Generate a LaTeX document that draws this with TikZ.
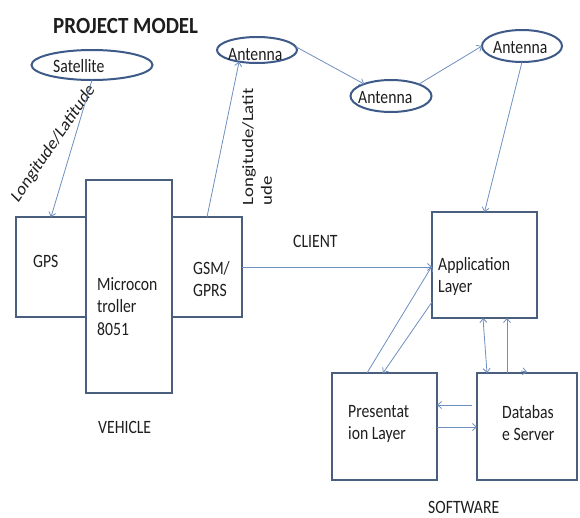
\documentclass[tikz,border=0pt]{standalone}
\usepackage{fontspec}
\setmainfont{Carlito}
\usetikzlibrary{arrows.meta,shapes.geometric,calc}
\definecolor{boxc}{HTML}{4A5F7E}
\definecolor{ellc}{HTML}{3D5A88}
\definecolor{arrc}{HTML}{6F8FC0}
\definecolor{txtc}{HTML}{1E1E1E}
\newcommand{\vsx}[1]{\scalebox{1}[1.2]{#1}}
\newcommand{\hsx}[1]{\scalebox{1.2}[1]{#1}}
\newcommand{\mylines}[1]{\begin{tabular}[t]{@{}l@{}}#1\end{tabular}}
\begin{document}
\begin{tikzpicture}[x=1pt,y=-1pt,
  box/.style={draw=boxc, line width=1.8pt, inner sep=0pt, outer sep=0pt},
  ell/.style={ellipse, draw=ellc, line width=2pt, inner sep=0pt, outer sep=0pt},
  txt/.style={inner sep=0pt, anchor=base west, text=txtc, font=\fontsize{15.7}{18.75}\selectfont},
  arr/.style={draw=arrc, line width=0.8pt, -{Straight Barb[length=4pt,width=7pt]}},
  darr/.style={draw=arrc, line width=0.8pt, {Straight Barb[length=4pt,width=7pt]}-{Straight Barb[length=4pt,width=7pt]}}]
\fill[white] (0,0) rectangle (580,517);
\useasboundingbox (0,0) rectangle (580,517);
% title
\node[txt, font=\bfseries\fontsize{21}{24}\selectfont] (title) at (53,33) {\scalebox{1}[1.1]{PROJECT MODEL}};
% ellipses
\node[ell, minimum width=121pt, minimum height=30pt] (sat) at (92,65) {};
\node[ell, minimum width=80pt, minimum height=26pt] (ant1) at (257,50) {};
\node[ell, minimum width=81pt, minimum height=32pt] (ant2) at (391,96) {};
\node[ell, minimum width=80pt, minimum height=32pt] (ant3) at (522,46) {};
\node[txt] (satT) at (53,72) {\vsx{Satellite}};
\node[txt] (ant1T) at (228,60) {\vsx{Antenna}};
\node[txt] (ant2T) at (358,103) {\vsx{Antenna}};
\node[txt] (ant3T) at (493,53) {\vsx{Antenna}};
% boxes
\node[box, minimum width=70pt, minimum height=100pt] (gps) at (51,267) {};
\node[box, minimum width=86pt, minimum height=213pt] (mcu) at (129,286.5) {};
\node[box, minimum width=70pt, minimum height=100pt] (gsm) at (207,267) {};
\node[box, minimum width=105pt, minimum height=106pt] (app) at (484.5,265) {};
\node[box, minimum width=105pt, minimum height=107pt] (pres) at (384.5,426.5) {};
\node[box, minimum width=100pt, minimum height=107pt] (db) at (527,426.5) {};
% box texts
\node[txt] (gpsT) at (33,267) {\vsx{GPS}};
\node[txt] (mcuT) at (97,290) {\vsx{\mylines{Microcon\\troller\\8051}}};
\node[txt] (gsmT) at (193,274) {\vsx{\mylines{GSM/\\GPRS}}};
\node[txt] (appT) at (438,270) {\vsx{\mylines{Application\\Layer}}};
\node[txt] (presT) at (348,417) {\vsx{\mylines{Presentat\\ion Layer}}};
\node[txt] (dbT) at (502,418) {\vsx{\mylines{Databas\\e Server}}};
\node[txt] (client) at (293,247) {\vsx{CLIENT}};
\node[txt] (vehicle) at (98,433) {\vsx{VEHICLE}};
\node[txt] (software) at (428,513) {\vsx{SOFTWARE}};
% rotated labels
\begin{scope}[shift={(53.5,143.5)}, yscale=1.2]
\node[inner sep=0pt, transform shape, rotate=50.7, text=txtc, font=\fontsize{15.7}{18.75}\selectfont] (lbl1) {Longitude/Latitude};
\end{scope}
\node[inner sep=0pt, rotate=90, align=left, text=txtc, font=\fontsize{15.7}{18.75}\selectfont] (lbl2) at (257,147) {\hsx{Longitude/Latit}\\\hsx{ude}};
% connectors
\draw[arr] (sat.south) -- (gps.north);
\draw[arr] (gsm.north) -- (ant1.213);
\draw[arr] (ant1.5) -- (ant2.156);
\draw[arr] (ant2.23) -- (ant3.180);
\draw[arr] (ant3.south) -- (app.north);
\draw[arr] (gsm.east) -- (gsm.east -| app.west);
\draw[arr] ($(pres.north west)+(35,0)$) -- ($(app.north west)+(0,54)$);
\draw[arr] ($(app.north west)+(0,90)$) -- ($(pres.north west)+(51,0)$);
\draw[darr] ($(app.south west)+(51,0)$) -- ($(db.north west)+(10,0)$);
\draw[arr] ($(db.north west)+(30,0)$) -- ($(app.south west)+(75,0)$);
\draw[arr] ($(db.north west)+(44,-2)$) -- ($(db.north west)+(50,-1)$);
\draw[arr] ($(db.north west)+(-5,32)$) -- ($(pres.north east)+(0,32)$);
\draw[arr] ($(pres.north east)+(0,54)$) -- ($(db.north west)+(0,54)$);
\end{tikzpicture}
\end{document}
